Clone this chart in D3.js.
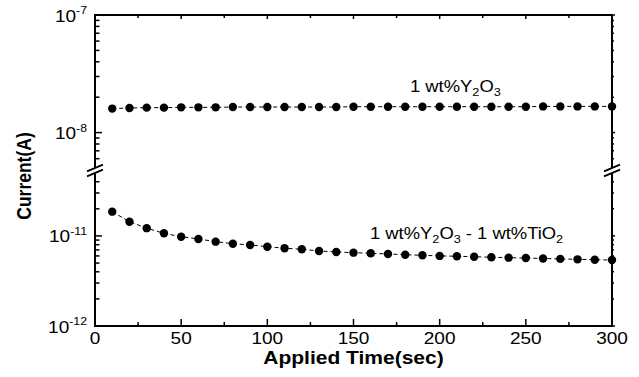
<!DOCTYPE html>
<html><head><meta charset="utf-8">
<script src="https://cdn.jsdelivr.net/npm/d3@7/dist/d3.min.js"></script>
<style>
html,body{margin:0;padding:0;background:#fff;}
svg{display:block;font-family:"Liberation Sans",Arial,Helvetica,sans-serif;}
</style></head>
<body><svg id="chart" width="639" height="377"></svg>
<script>
// ---- data ----
const times = [10,20,30,40,50,60,70,80,90,100,110,120,130,140,150,160,170,180,190,200,210,220,230,240,250,260,270,280,290,300];
const currentY2O3 = [1.60e-8,1.62e-8,1.63e-8,1.63e-8,1.64e-8,1.64e-8,1.64e-8,1.65e-8,1.65e-8,1.65e-8,1.65e-8,1.65e-8,1.65e-8,1.65e-8,1.66e-8,1.66e-8,1.66e-8,1.66e-8,1.66e-8,1.66e-8,1.66e-8,1.66e-8,1.66e-8,1.66e-8,1.66e-8,1.67e-8,1.67e-8,1.67e-8,1.67e-8,1.67e-8];
const currentY2O3TiO2 = [1.86e-11,1.44e-11,1.22e-11,1.07e-11,9.8e-12,9.26e-12,8.64e-12,8.2e-12,7.94e-12,7.6e-12,7.3e-12,7.11e-12,6.81e-12,6.64e-12,6.52e-12,6.42e-12,6.31e-12,6.19e-12,6.1e-12,6.0e-12,5.95e-12,5.88e-12,5.8e-12,5.74e-12,5.68e-12,5.62e-12,5.56e-12,5.5e-12,5.45e-12,5.4e-12];
const xTicks = [0,50,100,150,200,250,300];
const xMinorTicks = [25,75,125,175,225,275];
const upperMajor = [1e-8,1e-7];
const upperMinor = [6e-9,7e-9,8e-9,9e-9,2e-8,3e-8,4e-8,5e-8,6e-8,7e-8,8e-8,9e-8];
const lowerMajor = [1e-12,1e-11];
const lowerMinor = [2e-12,3e-12,4e-12,5e-12,6e-12,7e-12,8e-12,9e-12,2e-11,3e-11,4e-11];
const upperDomain = [5e-9,1e-7];
const lowerDomain = [1e-12,5e-11];

// ---- layout ----
const L=95, R=612, T=15, B=326, breakTop=168, breakBot=173;
const svg = d3.select("#chart");
const x = d3.scaleLinear().domain([0,300]).range([L,R]);
const yUp = d3.scaleLog().domain(upperDomain).range([breakTop,T]);
const yLo = d3.scaleLog().domain(lowerDomain).range([B,breakBot]);
const SX = 1.12;

// frame lines
const frame = svg.append("g").attr("stroke","#000").attr("stroke-width",2).attr("fill","none");
frame.append("line").attr("x1",L).attr("x2",R).attr("y1",T).attr("y2",T);
frame.append("line").attr("x1",L-1).attr("x2",R+1).attr("y1",B).attr("y2",B);
[L,R].forEach(xx=>{
  frame.append("line").attr("x1",xx).attr("x2",xx).attr("y1",T-1).attr("y2",breakTop);
  frame.append("line").attr("x1",xx).attr("x2",xx).attr("y1",breakBot).attr("y2",B+1);
});

// ticks
const tk = svg.append("g").attr("stroke","#000").attr("stroke-width",1.5);
xTicks.forEach(v=>{
  tk.append("line").attr("x1",x(v)).attr("x2",x(v)).attr("y1",B).attr("y2",B-7);
  tk.append("line").attr("x1",x(v)).attr("x2",x(v)).attr("y1",T).attr("y2",T+4);
});
xMinorTicks.forEach(v=>{
  tk.append("line").attr("x1",x(v)).attr("x2",x(v)).attr("y1",B).attr("y2",B-4);
  tk.append("line").attr("x1",x(v)).attr("x2",x(v)).attr("y1",T).attr("y2",T+3);
});
function yTick(yy, major){
  tk.append("line").attr("x1",L).attr("x2",L+(major?7:4.5)).attr("y1",yy).attr("y2",yy);
  tk.append("line").attr("x1",R).attr("x2",R+(major?3:2)).attr("y1",yy).attr("y2",yy);
}
upperMajor.forEach(v=>yTick(yUp(v),true));
upperMinor.forEach(v=>yTick(yUp(v),false));
lowerMajor.forEach(v=>yTick(yLo(v),true));
lowerMinor.forEach(v=>yTick(yLo(v),false));

// break marks
const brk = svg.append("g").attr("stroke","#000").attr("stroke-width",1.8);
[L,R].forEach(xx=>{
  [breakTop, breakBot].forEach(yc=>{
    brk.append("line").attr("x1",xx-8).attr("y1",yc+3.3).attr("x2",xx+8).attr("y2",yc-3.3);
  });
});

// tick labels
const fontT = 17;
xTicks.forEach(v=>{
  svg.append("text").attr("transform",`translate(${x(v)},344) scale(${SX},1)`)
    .attr("text-anchor","middle").attr("font-size",fontT).text(v);
});
function yLabel(yy, exp){
  const t = svg.append("text").attr("transform",`translate(87,${yy+6.5}) scale(${SX},1)`)
    .attr("text-anchor","end").attr("font-size",fontT);
  t.append("tspan").text("10");
  t.append("tspan").attr("dy",-7.5).attr("font-size",11).text(exp);
}
upperMajor.forEach(v=>yLabel(yUp(v), String(Math.round(Math.log10(v)))));
lowerMajor.forEach(v=>yLabel(yLo(v), String(Math.round(Math.log10(v)))));

// axis titles
svg.append("text").attr("transform",`translate(${(L+R)/2},364) scale(1.2,1)`)
  .attr("text-anchor","middle").attr("font-size",17.5).attr("font-weight","bold").text("Applied Time(sec)");
svg.append("text").attr("transform",`translate(31,176) scale(1.18,1) rotate(-90)`)
  .attr("text-anchor","middle").attr("font-size",17.5).attr("font-weight","bold").text("Current(A)");

// series
function drawSeries(vals, ys){
  const line = d3.line().x((d,i)=>x(times[i])).y(d=>ys(d));
  svg.append("path").datum(vals).attr("d",line).attr("fill","none")
    .attr("stroke","#000").attr("stroke-width",1).attr("stroke-dasharray","4,3");
  svg.append("g").selectAll("circle").data(vals).join("circle")
    .attr("cx",(d,i)=>x(times[i])).attr("cy",d=>ys(d)).attr("r",4.2).attr("fill","#000");
}
drawSeries(currentY2O3, yUp);
drawSeries(currentY2O3TiO2, yLo);

// series labels
function seriesLabel(xx, yy, parts){
  const t = svg.append("text").attr("transform",`translate(${xx},${yy}) scale(1.15,1)`)
    .attr("font-size",16);
  let shifted = false;
  parts.forEach(p=>{
    const sub = p.sub;
    const s = t.append("tspan").text(p.t);
    if(sub && !shifted){ s.attr("dy",4).attr("font-size",11); shifted=true; }
    else if(!sub && shifted){ s.attr("dy",-4); shifted=false; }
    else if(sub){ s.attr("font-size",11); }
  });
}
seriesLabel(410, 92, [{t:"1 wt%Y"},{t:"2",sub:true},{t:"O"},{t:"3",sub:true}]);
seriesLabel(370, 239, [{t:"1 wt%Y"},{t:"2",sub:true},{t:"O"},{t:"3",sub:true},{t:" - 1 wt%TiO"},{t:"2",sub:true}]);
</script></body></html>
